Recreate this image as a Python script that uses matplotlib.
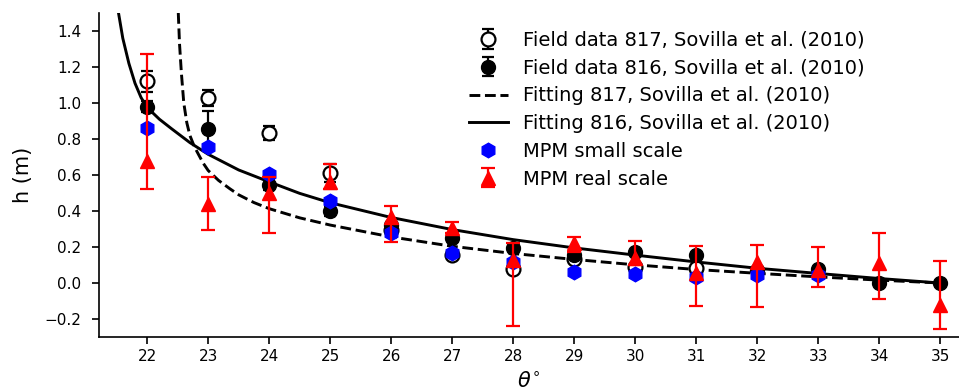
import matplotlib
matplotlib.use("Agg")
import matplotlib.pyplot as plt
import numpy as np

# ---------------- data ----------------
theta = [22, 23, 24, 25, 26, 27, 28, 29, 30, 31, 32, 33, 34, 35]

# Field data 817 (open circles)
f817_theta = [22, 23, 24, 25, 26, 27, 28, 29, 30, 31]
f817_h     = [1.12, 1.03, 0.835, 0.613, 0.294, 0.155, 0.078, 0.131, 0.09, 0.081]
f817_err   = [0.06, 0.045, 0.04, 0.05, 0.01, 0.01, 0.01, 0.01, 0.01, 0.01]

# Field data 816 (filled circles)
f816_h   = [0.98, 0.854, 0.544, 0.40, 0.322, 0.248, 0.193, 0.155, 0.174, 0.155, 0.072, 0.076, 0.002, 0.0]
f816_err = [0.03, 0.10, 0.03, 0.03, 0.01, 0.01, 0.01, 0.01, 0.01, 0.01, 0.01, 0.01, 0.01, 0.01]

# MPM small scale (blue hexagons)
small_theta = [22, 23, 24, 25, 26, 27, 28, 29, 30, 31, 32, 33]
small_h     = [0.86, 0.753, 0.605, 0.457, 0.276, 0.168, 0.118, 0.063, 0.05, 0.035, 0.044, 0.044]

# MPM real scale (red triangles) with lower / upper bounds
real_h     = [0.68, 0.44, 0.50, 0.563, 0.368, 0.304, 0.128, 0.22, 0.137, 0.054, 0.118, 0.072, 0.113, -0.122]
real_low   = [0.525, 0.294, 0.28, 0.52, 0.226, 0.28, -0.237, 0.17, 0.10, -0.126, -0.135, -0.02, -0.091, -0.255]
real_high  = [1.27, 0.587, 0.59, 0.66, 0.43, 0.34, 0.22, 0.254, 0.235, 0.207, 0.211, 0.198, 0.28, 0.124]

# Fitting curves
fit816_theta = [21.53, 21.6, 21.7, 21.8, 21.9, 22.0, 22.2, 22.4, 22.7, 23.0, 23.5, 24.0,
                24.5, 25.0, 26.0, 27.0, 28.0, 29.0, 30.0, 31.0, 32.0, 33.0, 34.0, 35.0]
fit816_h     = [1.50, 1.36, 1.22, 1.11, 1.03, 0.975, 0.91, 0.857, 0.78, 0.715, 0.628, 0.562,
                0.498, 0.446, 0.364, 0.297, 0.241, 0.195, 0.155, 0.117, 0.082, 0.053, 0.025, 0.0]

fit817_theta = [22.51, 22.53, 22.56, 22.6, 22.65, 22.7, 22.77, 22.84, 22.92, 23.0, 23.17,
                23.35, 23.5, 23.75, 24.0, 24.5, 25.0, 26.0, 27.0, 28.0, 29.0, 30.0,
                31.0, 32.0, 33.0, 34.0, 35.0]
fit817_h     = [1.50, 1.33, 1.17, 1.00, 0.89, 0.82, 0.76, 0.715, 0.665, 0.625, 0.57,
                0.525, 0.49, 0.447, 0.413, 0.362, 0.322, 0.256, 0.204, 0.164, 0.131, 0.101,
                0.075, 0.054, 0.034, 0.016, 0.0]

labels = ["Field data 817, Sovilla et al. (2010)",
          "Field data 816, Sovilla et al. (2010)",
          "Fitting 817, Sovilla et al. (2010)",
          "Fitting 816, Sovilla et al. (2010)",
          "MPM small scale",
          "MPM real scale"]

# ---------------- figure ----------------
fig = plt.figure(figsize=(9.59, 3.92), dpi=100)
ax = fig.add_axes([99/959, 55/392, 860/959, 324/392])

l817, = ax.plot(fit817_theta, fit817_h, color="black", lw=2.1, ls="--", zorder=2)
l816, = ax.plot(fit816_theta, fit816_h, color="black", lw=2.1, ls="-", zorder=2)

e817 = ax.errorbar(f817_theta, f817_h, yerr=f817_err, fmt="o", ms=10,
                   mfc="white", mec="black", mew=1.6, ecolor="black",
                   elinewidth=1.6, capsize=4.5, capthick=1.6, zorder=3)
e816 = ax.errorbar(theta, f816_h, yerr=f816_err, fmt="o", ms=10,
                   mfc="black", mec="black", ecolor="black",
                   elinewidth=1.6, capsize=4.5, capthick=1.6, zorder=4)
lsmall, = ax.plot(small_theta, small_h, ls="none", marker="h", ms=10.5,
                  color="blue", zorder=5)

real_arr = np.array(real_h)
yerr_real = [real_arr - np.array(real_low), np.array(real_high) - real_arr]
ereal = ax.errorbar(theta, real_h, yerr=yerr_real, fmt="^", ms=10,
                    color="red", ecolor="red", elinewidth=1.6,
                    capsize=5, capthick=1.6, zorder=6)

ax.set_xlim(21.21, 35.31)
ax.set_ylim(-0.3, 1.5)
ax.set_xticks(theta)
ax.set_yticks([-0.2, 0.0, 0.2, 0.4, 0.6, 0.8, 1.0, 1.2, 1.4])
ax.tick_params(labelsize=11, width=1.2, length=5)
ax.tick_params(axis="y", pad=8)
for s in ["top", "right"]:
    ax.spines[s].set_visible(False)
for s in ["left", "bottom"]:
    ax.spines[s].set_linewidth(1.2)

ax.set_xlabel(r"$\theta^{\circ}$", fontsize=15, labelpad=5)
ax.set_ylabel("h (m)", fontsize=15, labelpad=8)

ax.legend([e817, e816, l817, l816, lsmall, ereal], labels,
          loc="upper left", bbox_to_anchor=(0.421, 0.969),
          borderaxespad=0, frameon=False, fontsize=14, labelspacing=0.45)

fig.savefig("out.png", dpi=100)
